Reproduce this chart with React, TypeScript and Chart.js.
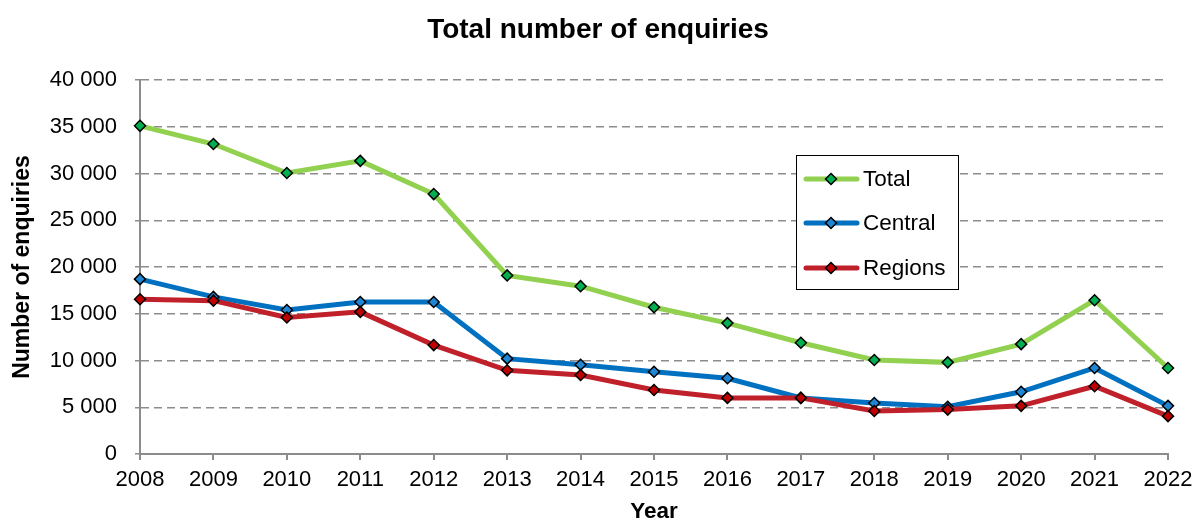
import React, { useEffect, useRef } from "react";
import { Chart, registerables } from "chart.js";

Chart.register(...registerables);

const years = ["2008","2009","2010","2011","2012","2013","2014","2015","2016","2017","2018","2019","2020","2021","2022"];
const totalValues = [35100, 33150, 30050, 31350, 27800, 19100, 17950, 15700, 14000, 11900, 10050, 9800, 11750, 16450, 9200];
const centralValues = [18700, 16800, 15400, 16250, 16250, 10200, 9550, 8800, 8100, 6000, 5450, 5050, 6650, 9200, 5150];
const regionsValues = [16550, 16400, 14600, 15200, 11650, 8950, 8450, 6850, 6000, 6000, 4600, 4750, 5150, 7250, 4050];
const yTicks = [0, 5000, 10000, 15000, 20000, 25000, 30000, 35000, 40000];
const chartTitle = "Total number of enquiries";

const FONT = "Arial, 'Liberation Sans', sans-serif";

const fmt = (v: number) => {
  const s = String(Math.round(v));
  return s.replace(/\B(?=(\d{3})+(?!\d))/g, " ");
};

const titleAndLegendPlugin = {
  id: "titleAndLegend",
  afterDraw(chart: any) {
    const ctx = chart.ctx;
    ctx.save();
    // title
    ctx.fillStyle = "#000";
    ctx.font = `bold 28px ${FONT}`;
    ctx.textAlign = "center";
    ctx.textBaseline = "middle";
    ctx.fillText(chartTitle, chart.width / 2, 30);

    // legend box
    const x0 = 796, y0 = 155, w = 162, h = 134;
    ctx.fillStyle = "#ffffff";
    ctx.fillRect(x0, y0, w, h);
    ctx.strokeStyle = "#000000";
    ctx.lineWidth = 1;
    ctx.strokeRect(x0 + 0.5, y0 + 0.5, w, h);
    const rows = [179, 223, 268];
    chart.data.datasets.forEach((ds: any, i: number) => {
      const y = rows[i];
      ctx.strokeStyle = ds.borderColor;
      ctx.lineWidth = 5;
      ctx.lineCap = "round";
      ctx.beginPath();
      ctx.moveTo(806, y);
      ctx.lineTo(857, y);
      ctx.stroke();
      const r = 5.5;
      ctx.beginPath();
      ctx.moveTo(831, y - r);
      ctx.lineTo(831 + r, y);
      ctx.lineTo(831, y + r);
      ctx.lineTo(831 - r, y);
      ctx.closePath();
      ctx.fillStyle = ds.pointBackgroundColor;
      ctx.fill();
      ctx.lineWidth = 1.5;
      ctx.strokeStyle = "#000";
      ctx.stroke();
      ctx.fillStyle = "#000";
      ctx.font = `22.5px ${FONT}`;
      ctx.textBaseline = "middle";
      ctx.textAlign = "left";
      ctx.fillText(ds.label, 863, y + 1);
    });
    ctx.restore();
  },
};

export default function App() {
  const ref = useRef<HTMLCanvasElement | null>(null);
  useEffect(() => {
    document.body.style.margin = "0";
    const mk = (label: string, data: number[], line: string, fill: string, order: number) => ({
      label,
      data,
      borderColor: line,
      backgroundColor: line,
      borderWidth: 5,
      pointStyle: "rectRot",
      pointRadius: 5.5,
      pointBackgroundColor: fill,
      pointBorderColor: "#000000",
      pointBorderWidth: 1.5,
      tension: 0,
      order,
    });
    const chart = new Chart(ref.current as HTMLCanvasElement, {
      type: "line",
      data: {
        labels: years,
        datasets: [
          mk("Total", totalValues, "#92D050", "#00B050", 2),
          mk("Central", centralValues, "#0070C0", "#1F86D4", 1),
          mk("Regions", regionsValues, "#C0202A", "#C00000", 0),
        ],
      },
      plugins: [titleAndLegendPlugin],
      options: {
        responsive: false,
        animation: false,
        layout: { padding: { left: 0, right: 28, top: 80, bottom: 0 } },
        plugins: {
          legend: { display: false },
          tooltip: { enabled: false },
          title: { display: false },
        },
        scales: {
          x: {
            type: "category",
            offset: false,
            afterFit(scale: any) { scale.height = 71; scale.paddingRight = 0; scale.paddingLeft = 0; },
            grid: { display: true, drawOnChartArea: false, drawTicks: true, tickLength: 6, color: "#8C8C8C", lineWidth: 2 },
            border: { display: true, color: "#8C8C8C", width: 2 },
            ticks: { color: "#000", font: { family: FONT, size: 22 }, maxRotation: 0, autoSkip: false, padding: 7 },
            title: { display: true, text: "Year", color: "#000", font: { family: FONT, size: 22.5, weight: "bold" }, padding: { top: 0, bottom: 0 } },
          },
          y: {
            min: 0,
            max: 40000,
            afterFit(scale: any) { scale.width = 140; scale.paddingTop = 0; scale.paddingBottom = 0; },
            afterBuildTicks(scale: any) { scale.ticks = yTicks.map((v) => ({ value: v })); },
            grid: { display: true, drawOnChartArea: true, drawTicks: true, tickLength: 5, color: "#8C8C8C", lineWidth: 1.5 },
            border: { display: true, color: "#8C8C8C", width: 2, dash: [8, 5] },
            ticks: { color: "#000", font: { family: FONT, size: 22 }, padding: 18, callback: (v: any) => fmt(Number(v)) },
            title: { display: true, text: "Number of enquiries", color: "#000", font: { family: FONT, size: 23, weight: "bold" }, padding: { top: 9, bottom: 0 } },
          },
        },
      },
    } as any);
    return () => chart.destroy();
  }, []);
  return <canvas ref={ref} width={1196} height={525} style={{ display: "block" }} />;
}
